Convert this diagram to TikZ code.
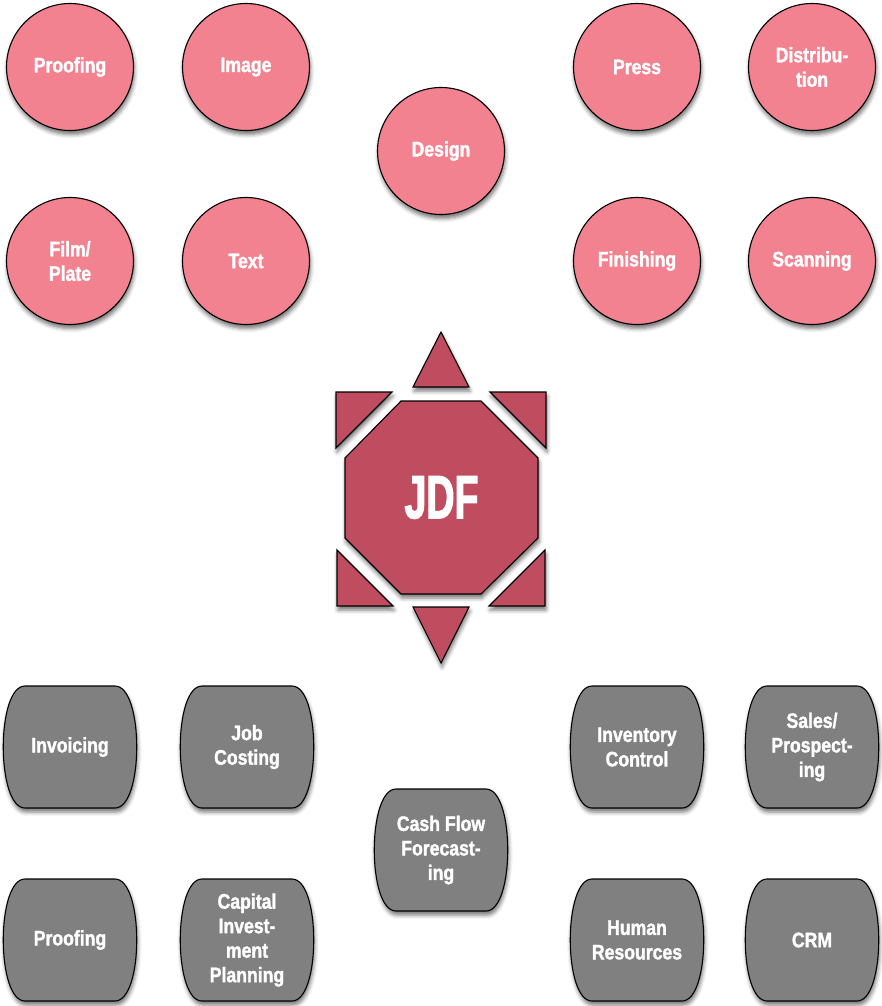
\documentclass[tikz,border=0pt]{standalone}
\usepackage{fontspec}
\setmainfont{Liberation Sans}[FakeStretch=0.84, BoldFeatures={FakeBold=1.5}]
\newfontfamily\jdffont{Liberation Sans}[FakeStretch=0.64, BoldFeatures={FakeBold=2}]
\usetikzlibrary{shadows.blur}

\definecolor{stagepink}{HTML}{F28290}
\definecolor{jdfred}{HTML}{C04C60}
\definecolor{officegray}{HTML}{808080}

% barrel shaped box for the business side
\newcommand{\office}[3]{%
    \begin{scope}[shift={(#2)}]
        \path[officebox] (-45,-61) -- (45,-61)
            .. controls (74,-61) and (74,61) .. (45,61) -- (-45,61)
            .. controls (-74,61) and (-74,-61) .. (-45,-61) -- cycle;
        \node[officetext] (#1) at (0,0) {#3};
    \end{scope}}

\begin{document}
\begin{tikzpicture}[
        x=1pt, y=-1pt,
        every node/.style={text=white, align=center, font=\fontsize{21}{24.5}\selectfont\bfseries},
        shade/.style={blur shadow={shadow xshift=1pt, shadow yshift=-4pt, shadow blur radius=4pt, shadow opacity=55}},
        stage/.style={draw, circle, line width=1.1pt, fill=stagepink, minimum size=127pt, inner sep=0pt, shade},
        officebox/.style={draw, line width=1.1pt, fill=officegray, shade},
        officetext/.style={inner sep=0pt},
        arm/.style={draw, line width=1.1pt, fill=jdfred, shade, line join=miter},
    ]
    \useasboundingbox (0,0) rectangle (881,1006);

    % production stages
    \node[stage] (proofing) at (70,67) {Proofing};
    \node[stage] (image) at (246,67) {Image};
    \node[stage] (design) at (441,151) {Design};
    \node[stage] (press) at (637,67) {Press};
    \node[stage] (distribution) at (812,67) {Distribu-\\tion};
    \node[stage] (film) at (70,261) {Film/\\Plate};
    \node[stage] (text) at (246,261) {Text};
    \node[stage] (finishing) at (637,261) {Finishing};
    \node[stage] (scanning) at (812,261) {Scanning};

    % JDF hub with its arrow tips
    \path[arm] (441,332) -- (469,387) -- (413,387) -- cycle;
    \path[arm] (441,663) -- (469,607) -- (413,607) -- cycle;
    \path[arm] (336,392) -- (392,392) -- (336,448) -- cycle;
    \path[arm] (546,392) -- (490,392) -- (546,448) -- cycle;
    \path[arm] (337,606) -- (337,550) -- (393,606) -- cycle;
    \path[arm] (545,606) -- (545,550) -- (489,606) -- cycle;
    \path[arm] (401,401) -- (481,401) -- (538,458) -- (538,538) -- (481,594)
        -- (401,594) -- (345,538) -- (345,458) -- cycle;
    \node[font=\fontsize{61}{61}\selectfont\jdffont\bfseries] (jdf) at (441.5,497.5) {JDF};

    % business systems
    \office{invoicing}{70,747}{Invoicing}
    \office{costing}{247,747}{Job\\Costing}
    \office{inventory}{637,747}{Inventory\\Control}
    \office{sales}{812,747}{Sales/\\Prospect-\\ing}
    \office{cashflow}{441,850}{Cash Flow\\Forecast-\\ing}
    \office{proofing2}{70,940}{Proofing}
    \office{capital}{247,940}{Capital\\Invest-\\ment\\Planning}
    \office{hr}{637,940}{Human\\Resources}
    \office{crm}{812,940}{CRM}
\end{tikzpicture}
\end{document}
